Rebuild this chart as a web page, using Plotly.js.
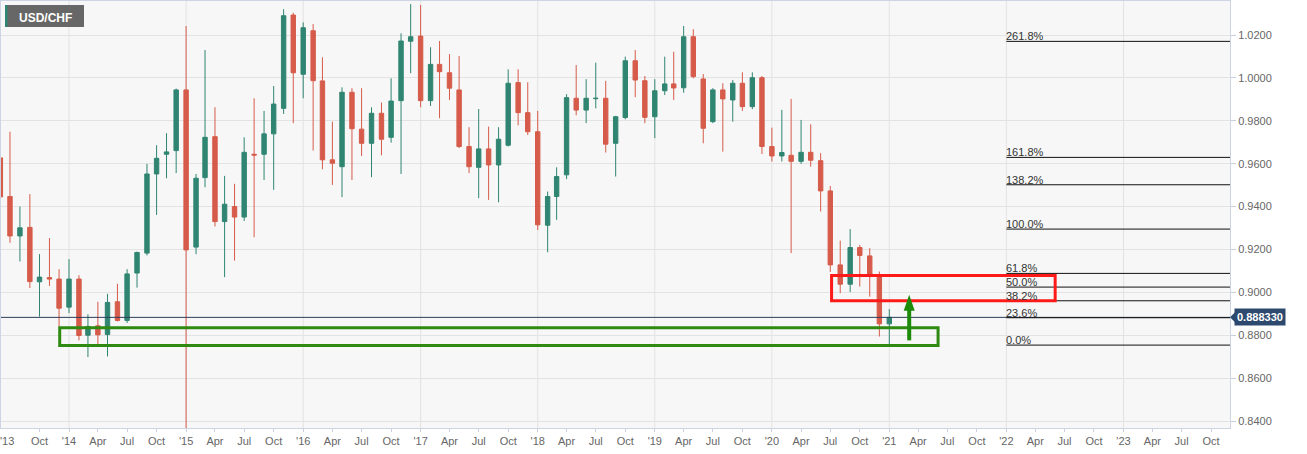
<!DOCTYPE html>
<html>
<head>
<meta charset="utf-8">
<script src="https://cdn.plot.ly/plotly-3.0.1.min.js"></script>
<style>
  body { margin: 0; background: #fff; }
  #chart { width: 1307px; height: 454px; }
</style>
</head>
<body>
<div id="chart"></div>
<script>
// USD/CHF monthly candles, Jun 2013 - Jan 2021
var firstMonth = [2013, 6];
var opens = [0.9627, 0.9447, 0.9263, 0.9303, 0.9049, 0.9069, 0.9062,
  0.8931, 0.9062, 0.8800, 0.8844, 0.8803, 0.8956, 0.8869, 0.9090, 0.9183, 0.9552, 0.9644, 0.9661,
  0.9944, 0.9211, 0.9535, 0.9726, 0.9330, 0.9400, 0.9351, 0.9644, 0.9644, 0.9739, 0.9858, 1.0293,
  1.0017, 1.0220, 0.9986, 0.9618, 0.9586, 0.9933, 0.9761, 0.9695, 0.9835, 0.9723, 0.9894, 1.0171,
  1.0195, 0.9894, 1.0063, 1.0024, 0.9944, 0.9680, 0.9583, 0.9669, 0.9594, 0.9686, 0.9978, 0.9838,
  0.9749, 0.9313, 0.9447, 0.9548, 0.9905, 0.9850, 0.9903, 0.9905, 0.9695, 0.9815, 1.0080, 0.9987,
  0.9819, 0.9940, 0.9972, 0.9954, 1.0192, 0.9995, 0.9796, 0.9944, 0.9897, 0.9975, 0.9866, 1.0001,
  0.9680, 0.9636, 0.9639, 0.9611, 0.9653, 0.9614, 0.9473, 0.9128, 0.9038, 0.9209, 0.9170, 0.9082,
  0.8853];
var highs = [0.9650, 0.9749, 0.9400, 0.9458, 0.9178, 0.9253, 0.9108,
  0.9155, 0.9080, 0.8898, 0.8956, 0.8993, 0.9040, 0.9108, 0.9190, 0.9599, 0.9686, 0.9742, 0.9950,
  1.0242, 0.9552, 1.0130, 0.9863, 0.9543, 0.9506, 0.9723, 0.9905, 0.9846, 0.9962, 1.0320, 1.0304,
  1.0259, 1.0251, 1.0096, 0.9796, 0.9956, 0.9952, 0.9952, 0.9863, 0.9885, 0.9998, 1.0208, 1.0344,
  1.0340, 1.0143, 1.0172, 1.0111, 1.0102, 0.9770, 0.9855, 0.9773, 0.9770, 1.0040, 1.0040, 0.9980,
  0.9846, 0.9470, 0.9583, 0.9924, 1.0060, 0.9994, 1.0071, 0.9986, 0.9823, 1.0099, 1.0130, 1.0009,
  0.9994, 1.0099, 1.0122, 1.0242, 1.0227, 1.0018, 0.9952, 0.9975, 0.9990, 1.0026, 1.0026, 1.0009,
  0.9768, 0.9851, 0.9902, 0.9804, 0.9784, 0.9649, 0.9496, 0.9241, 0.9295, 0.9221, 0.9206, 0.9097,
  0.8922];
var lows = [0.9138, 0.9231, 0.9144, 0.9020, 0.8887, 0.9030, 0.8841,
  0.8903, 0.8776, 0.8698, 0.8745, 0.8701, 0.8864, 0.8857, 0.9022, 0.9172, 0.9361, 0.9532, 0.9556,
  0.7325, 0.9178, 0.9490, 0.9307, 0.9071, 0.9148, 0.9333, 0.9257, 0.9524, 0.9478, 0.9832, 0.9789,
  0.9905, 0.9661, 0.9574, 0.9501, 0.9444, 0.9524, 0.9636, 0.9537, 0.9639, 0.9698, 0.9552, 1.0022,
  0.9863, 0.9869, 0.9812, 0.9897, 0.9673, 0.9556, 0.9439, 0.9431, 0.9420, 0.9680, 0.9779, 0.9734,
  0.9291, 0.9187, 0.9338, 0.9528, 0.9826, 0.9789, 0.9858, 0.9652, 0.9540, 0.9807, 0.9910, 0.9789,
  0.9719, 0.9920, 0.9897, 0.9931, 0.9998, 0.9695, 0.9789, 0.9656, 0.9796, 0.9846, 0.9854, 0.9645,
  0.9610, 0.9610, 0.9183, 0.9599, 0.9586, 0.9377, 0.9095, 0.8996, 0.9001, 0.9027, 0.8980, 0.8794,
  0.8754];
var closes = [0.9445, 0.9263, 0.9301, 0.9050, 0.9071, 0.9062, 0.8926,
  0.9062, 0.8799, 0.8841, 0.8802, 0.8953, 0.8869, 0.9086, 0.9186, 0.9552, 0.9625, 0.9655, 0.9944,
  0.9198, 0.9532, 0.9723, 0.9330, 0.9411, 0.9351, 0.9653, 0.9640, 0.9739, 0.9878, 1.0290, 1.0024,
  1.0234, 0.9987, 0.9618, 0.9602, 0.9933, 0.9763, 0.9695, 0.9835, 0.9714, 0.9892, 1.0172, 1.0192,
  0.9894, 1.0063, 1.0029, 0.9952, 0.9680, 0.9586, 0.9669, 0.9594, 0.9714, 0.9975, 0.9838, 0.9749,
  0.9315, 0.9447, 0.9540, 0.9908, 0.9850, 0.9905, 0.9905, 0.9691, 0.9819, 1.0080, 0.9990, 0.9816,
  0.9940, 0.9972, 0.9953, 1.0192, 1.0006, 0.9765, 0.9944, 0.9902, 0.9975, 0.9866, 1.0001, 0.9680,
  0.9636, 0.9652, 0.9611, 0.9653, 0.9616, 0.9473, 0.9128, 0.9038, 0.9209, 0.9172, 0.9085, 0.8853,
  0.88833];

var lastPrice = 0.88833;

// fibonacci drawn from the Jan 2021 low to the Sep 2020 high
var fibLow = 0.8754;
var fibHigh = 0.9295;
var fibRatios = [0, 0.236, 0.382, 0.5, 0.618, 1.0, 1.382, 1.618, 2.618];
var fibLabels = ["0.0%", "23.6%", "38.2%", "50.0%", "61.8%", "100.0%", "138.2%", "161.8%", "261.8%"];

var yTicks = [0.84, 0.86, 0.88, 0.90, 0.92, 0.94, 0.96, 0.98, 1.00, 1.02];
var xRange = ["2013-06-03", "2023-11-29"];

function pad(n) { return n < 10 ? "0" + n : "" + n; }

var months = [];
for (var i = 0; i < opens.length; i++) {
  var m = firstMonth[1] - 1 + i;
  var yr = firstMonth[0] + Math.floor(m / 12);
  months.push(yr + "-" + pad(m % 12 + 1) + "-01");
}

// quarterly ticks, year label on January
var tickVals = [], tickText = [];
var qNames = ["'", "Apr", "Jul", "Oct"];
for (var y = 2013; y <= 2023; y++) {
  for (var q = 0; q < 4; q++) {
    if (y == 2013 && q < 3) continue;
    tickVals.push(y + "-" + pad(q * 3 + 1) + "-01");
    tickText.push(q == 0 ? "'" + String(y).slice(2) : qNames[q]);
  }
}

var green = "#2f8571";
var red = "#d65b4a";

var trace = {
  type: "candlestick",
  x: months,
  open: opens,
  high: highs,
  low: lows,
  close: closes,
  increasing: { line: { color: green, width: 1 }, fillcolor: green },
  decreasing: { line: { color: red, width: 1 }, fillcolor: red },
  hoverinfo: "skip",
  showlegend: false
};

var shapes = [];
var annotations = [];

// year gridlines
for (var y = 2014; y <= 2023; y++) {
  shapes.push({
    type: "line", layer: "below", xref: "x", yref: "paper",
    x0: y + "-01-01", x1: y + "-01-01", y0: 0, y1: 1,
    line: { color: "#e3e3e3", width: 1 }
  });
}

// current price line
shapes.push({
  type: "line", xref: "paper", yref: "y", x0: 0, x1: 1, y0: lastPrice, y1: lastPrice,
  line: { color: "#2c3d5a", width: 1 }
});

// fib levels
fibRatios.forEach(function (r, k) {
  var lvl = fibLow + r * (fibHigh - fibLow);
  shapes.push({
    type: "line", xref: "x", yref: "y", x0: "2022-01-01", x1: xRange[1], y0: lvl, y1: lvl,
    line: { color: "#111", width: 1 }
  });
  annotations.push({
    x: "2022-01-01", y: lvl, xref: "x", yref: "y", xanchor: "left", yanchor: "bottom",
    text: fibLabels[k], showarrow: false, xshift: -2, yshift: -3,
    font: { size: 11, color: "#333" }
  });
});

// resistance box (red) and support box (green)
shapes.push({
  type: "rect", xref: "x", yref: "y", x0: "2020-07-05", x1: "2022-06-02", y0: 0.8961, y1: 0.9078,
  line: { color: "#ff1a1a", width: 3 }
});
shapes.push({
  type: "rect", xref: "x", yref: "y", x0: "2013-12-03", x1: "2021-06-02", y0: 0.8752, y1: 0.8835,
  line: { color: "#2f8a12", width: 3 }
});

// green arrow
shapes.push({
  type: "line", xref: "x", yref: "y", x0: "2021-03-04", x1: "2021-03-04", y0: 0.8776, y1: 0.8935,
  line: { color: "#1d8a0a", width: 4 }
});
shapes.push({
  type: "path", xref: "x", yref: "y", xsizemode: "pixel", ysizemode: "pixel",
  xanchor: "2021-03-04", yanchor: 0.8989,
  path: "M-5.5,-16 L5.5,-16 L0,0 Z",
  fillcolor: "#1d8a0a", line: { width: 0 }
});

// title tag
shapes.push({
  type: "rect", xref: "paper", yref: "paper", xsizemode: "pixel", ysizemode: "pixel",
  xanchor: 0, yanchor: 1, x0: 4, x1: 83, y0: -4, y1: -26,
  fillcolor: "#676767", line: { width: 0 }
});
shapes.push({
  type: "rect", xref: "paper", yref: "paper", xsizemode: "pixel", ysizemode: "pixel",
  xanchor: 0, yanchor: 1, x0: 4, x1: 6.5, y0: -4, y1: -26,
  fillcolor: "#2f8571", line: { width: 0 }
});
annotations.push({
  x: 0, y: 1, xref: "paper", yref: "paper", xanchor: "left", yanchor: "top",
  xshift: 16, yshift: -8, text: "<b>USD/CHF</b>", showarrow: false,
  font: { size: 12, color: "#fff" }
});

// price tag on the axis
annotations.push({
  x: 1, y: lastPrice, xref: "paper", yref: "y", xanchor: "left", yanchor: "middle",
  xshift: 4, text: "<b>0.888330</b>", showarrow: false,
  bgcolor: "#2d4a6e", borderpad: 2, font: { size: 11, color: "#fff" }
});
shapes.push({
  type: "path", xref: "paper", yref: "y", xsizemode: "pixel", ysizemode: "pixel",
  xanchor: 1, yanchor: lastPrice, path: "M0,0 L5,-5 L5,5 Z",
  fillcolor: "#2d4a6e", line: { width: 0 }
});

// clipped year label at the left edge
annotations.push({
  x: 0, y: 0, xref: "paper", yref: "paper", xanchor: "left", yanchor: "top",
  xshift: -3, yshift: -5, text: "'13", showarrow: false,
  font: { size: 11, color: "#666" }
});

var layout = {
  width: 1307,
  height: 454,
  margin: { l: 1, r: 77, t: 1, b: 26 },
  paper_bgcolor: "#fff",
  plot_bgcolor: "#f7f7f7",
  font: { family: "Arial, Liberation Sans, sans-serif", color: "#666" },
  showlegend: false,
  xaxis: {
    type: "date",
    range: xRange,
    rangeslider: { visible: false },
    tickmode: "array",
    tickvals: tickVals,
    ticktext: tickText,
    showgrid: false,
    ticks: "outside",
    ticklen: 3,
    tickcolor: "#c8d0e0",
    tickfont: { size: 11, color: "#666" },
    showline: true,
    mirror: true,
    linecolor: "#cdd5e5",
    zeroline: false
  },
  yaxis: {
    side: "right",
    range: [0.83674, 1.03586],
    tickmode: "array",
    tickvals: yTicks,
    tickformat: ".4f",
    showgrid: true,
    gridcolor: "#e3e3e3",
    ticks: "outside",
    ticklen: 5,
    tickcolor: "#c8d0e0",
    tickfont: { size: 11, color: "#666" },
    showline: true,
    mirror: true,
    linecolor: "#cdd5e5",
    zeroline: false
  },
  shapes: shapes,
  annotations: annotations
};

Plotly.newPlot("chart", [trace], layout, { staticPlot: true });
</script>
</body>
</html>
